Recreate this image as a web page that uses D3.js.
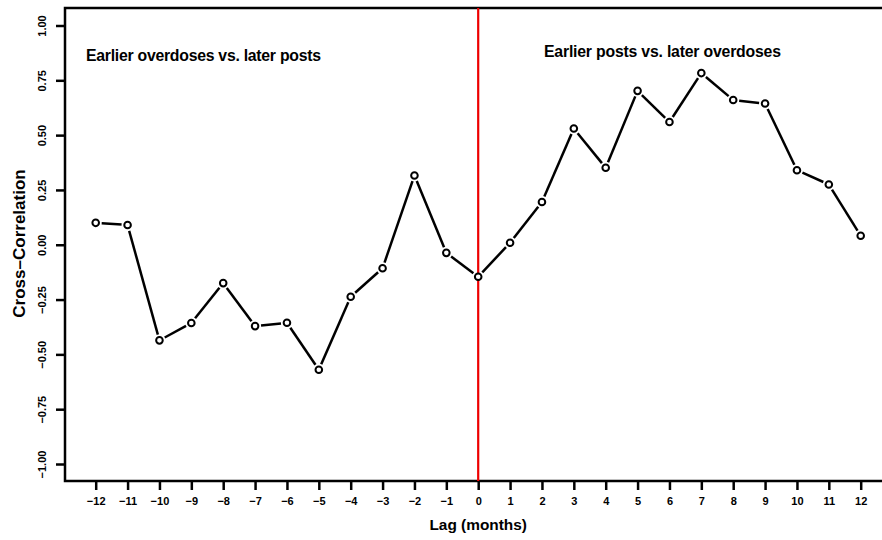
<!DOCTYPE html>
<html>
<head>
<meta charset="utf-8">
<script src="https://cdn.jsdelivr.net/npm/d3@7"></script>
<style>
  body { margin: 0; background: #fff; }
  text { font-family: "Liberation Sans", Arial, sans-serif; fill: #000; }
</style>
</head>
<body>
<script>
// lags in months and cross-correlation
const lags = [-12, -11, -10, -9, -8, -7, -6, -5, -4, -3, -2, -1, 0, 1, 2, 3, 4, 5, 6, 7, 8, 9, 10, 11, 12]
const corr = [0.10, 0.09, -0.436, -0.357, -0.175, -0.371, -0.356, -0.57, -0.237, -0.107, 0.316, -0.037,
              -0.146, 0.009, 0.195, 0.53, 0.351, 0.702, 0.56, 0.783, 0.66, 0.644, 0.34, 0.275, 0.041]
const yTicks = [-1, -0.75, -0.5, -0.25, 0, 0.25, 0.5, 0.75, 1]
const leftLabel = "Earlier overdoses vs. later posts"
const rightLabel = "Earlier posts vs. later overdoses"

const width = 882, height = 540
const boxLeft = 65, boxTop = 8, boxBottom = 481

const svg = d3.select("body").append("svg")
  .attr("width", width).attr("height", height)

const x = d3.scaleLinear().domain([-12, 12]).range([95.7, 860.7])
const y = d3.scaleLinear().domain([-1, 1]).range([464, 25.5])

// plot frame (right side runs off the image)
svg.append("path")
  .attr("d", `M${width + 5},${boxTop}H${boxLeft}V${boxBottom}H${width + 5}`)
  .attr("fill", "none").attr("stroke", "#000").attr("stroke-width", 2.5)

// x axis
const xAxis = svg.append("g")
  .attr("transform", `translate(0,${boxBottom})`)
  .call(d3.axisBottom(x).tickValues(lags).tickSize(9).tickPadding(7)
    .tickFormat(d => d < 0 ? "\u2212" + Math.abs(d) : d))
xAxis.select(".domain").remove()
xAxis.selectAll("line").attr("stroke-width", 2.5)
xAxis.selectAll("text").style("font-size", "11px").style("font-weight", "bold")
  .style("font-family", "Liberation Sans, Arial, sans-serif")

// y axis, labels rotated like base R
const yAxis = svg.append("g")
  .attr("transform", `translate(${boxLeft},0)`)
  .call(d3.axisLeft(y).tickValues(yTicks).tickSize(9).tickFormat(d => {
    const s = Math.abs(d).toFixed(2)
    return d < 0 ? "\u2212" + s : s
  }))
yAxis.select(".domain").remove()
yAxis.selectAll("line").attr("stroke-width", 2.5)
yAxis.selectAll("text")
  .attr("x", null).attr("dy", null)
  .attr("text-anchor", "middle")
  .attr("transform", "translate(-19,0) rotate(-90)")
  .style("font-size", "11px").style("font-weight", "bold")
  .style("font-family", "Liberation Sans, Arial, sans-serif")

// axis titles
svg.append("text")
  .attr("x", x(0)).attr("y", 530)
  .attr("text-anchor", "middle")
  .style("font-size", "15.4px").style("font-weight", "bold")
  .text("Lag (months)")

svg.append("text")
  .attr("transform", `translate(25,243.5) rotate(-90)`)
  .attr("text-anchor", "middle")
  .style("font-size", "17px").style("font-weight", "bold")
  .text("Cross\u2013Correlation")

// zero lag marker
svg.append("line")
  .attr("x1", x(0)).attr("x2", x(0))
  .attr("y1", boxTop).attr("y2", boxBottom)
  .attr("stroke", "#ee0000").attr("stroke-width", 2.2)

// panel labels
svg.append("text")
  .attr("x", 86).attr("y", 61)
  .attr("textLength", 235)
  .style("font-size", "15.8px").style("font-weight", "bold")
  .text(leftLabel)
svg.append("text")
  .attr("x", 544).attr("y", 57)
  .attr("textLength", 237)
  .style("font-size", "15.8px").style("font-weight", "bold")
  .text(rightLabel)

const pts = lags.map((l, i) => ({ lag: l, v: corr[i] }))

// line with gaps around the open circles, like type="b"
const gap = 6
pts.slice(1).forEach((p, i) => {
  const a = pts[i]
  const x1 = x(a.lag), y1 = y(a.v), x2 = x(p.lag), y2 = y(p.v)
  const len = Math.hypot(x2 - x1, y2 - y1)
  const ux = (x2 - x1) / len, uy = (y2 - y1) / len
  svg.append("line")
    .attr("x1", x1 + ux * gap).attr("y1", y1 + uy * gap)
    .attr("x2", x2 - ux * gap).attr("y2", y2 - uy * gap)
    .attr("stroke", "#000").attr("stroke-width", 2.5)
})

svg.selectAll("circle.pt")
  .data(pts)
  .join("circle")
  .attr("class", "pt")
  .attr("cx", d => x(d.lag))
  .attr("cy", d => y(d.v))
  .attr("r", 3.3)
  .attr("fill", "#fff")
  .attr("stroke", "#000")
  .attr("stroke-width", 2)
</script>
</body>
</html>
